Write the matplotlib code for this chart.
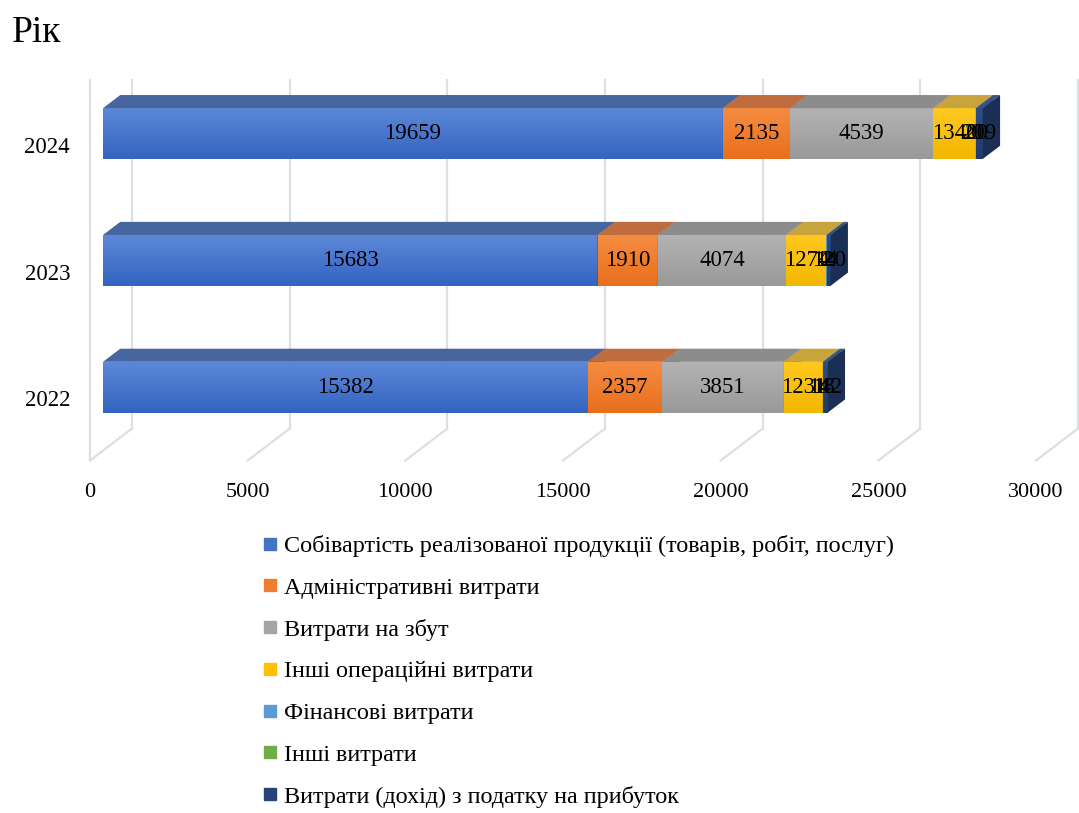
import numpy as np
import matplotlib.pyplot as plt
from matplotlib.patches import Polygon
from matplotlib.lines import Line2D
from matplotlib.colors import LinearSegmentedColormap

plt.rcParams['font.family'] = ['Liberation Serif', 'DejaVu Serif']

years = ['2022', '2023', '2024']
series = ['Собівартість реалізованої продукції (товарів, робіт, послуг)',
          'Адміністративні витрати',
          'Витрати на збут',
          'Інші операційні витрати',
          'Фінансові витрати',
          'Інші витрати',
          'Витрати (дохід) з податку на прибуток']
cost_sales = [15382, 15683, 19659]
admin = [2357, 1910, 2135]
selling = [3851, 4074, 4539]
other_oper = [1231, 1274, 1340]
finance = [18, 14, 20]
other = [4, 2, 0]
tax = [142, 120, 209]
values = [cost_sales, admin, selling, other_oper, finance, other, tax]
xticks = [0, 5000, 10000, 15000, 20000, 25000, 30000]

base = ['#4472C4', '#ED7D31', '#A5A5A5', '#FFC000', '#5B9BD5', '#70AD47', '#264478']
front_top = ['#5d88d9', '#f58c42', '#b3b3b3', '#ffc81f', '#6aa6dc', '#7db856', '#2d4e88']
front_bot = ['#3464c0', '#e86f1c', '#999999', '#f2b700', '#4d8dc8', '#629c3c', '#1f3b6c']
top_col = ['#47659f', '#bf6c3f', '#8c8c8c', '#c9a33b', '#4c80ad', '#5d8a3d', '#3a5487']
side_col = ['#2f528f', '#b85a20', '#7f7f7f', '#bf9000', '#3a71a3', '#4f7d31', '#1b2f55']

# oblique projection: full depth of the plot box
DX = 1332.0
DY = 0.252
d0, d1 = 0.31, 0.72   # bar depth range (fraction of full depth)
bar_h = 0.40

fig = plt.figure(figsize=(10.79, 8.13), dpi=100)
ax = fig.add_axes([90 / 1079, 1 - 460.5 / 813, 946 / 1079, 380.5 / 813])
ax.set_axis_off()

grid_c = '#dcdfe6'
# left wall edges
ax.plot([0, 0], [0, 3.0], color=grid_c, lw=1.6, zorder=0, clip_on=False)
for v in xticks:
    ax.plot([v + DX, v + DX], [DY, 3.0], color=grid_c, lw=1.6, zorder=0, clip_on=False)
    ax.plot([v, v + DX], [0, DY], color=grid_c, lw=1.6, zorder=0, clip_on=False)
    ax.text(v, -0.25, str(v), ha='center', va='center', fontsize=16)

z = 1
for j, yr in enumerate(years):
    lvl = j + 0.5
    ylo = lvl - bar_h / 2 + d0 * DY
    yhi = lvl + bar_h / 2 + d0 * DY
    ddx = (d1 - d0) * DX
    ddy = (d1 - d0) * DY
    left = 0.0
    for i, ser in enumerate(values):
        w = ser[j]
        x0 = left + d0 * DX
        x1 = x0 + w
        if w > 0:
            front = Polygon([(x0, ylo), (x1, ylo), (x1, yhi), (x0, yhi)], closed=True,
                            fc=front_bot[i], ec='none', zorder=z, clip_on=False)
            ax.add_patch(front)
            cmap = LinearSegmentedColormap.from_list('g', [front_bot[i], front_top[i]])
            im = ax.imshow(np.linspace(0, 1, 64).reshape(-1, 1), cmap=cmap, aspect='auto',
                           extent=[x0, x1, ylo, yhi], origin='lower', zorder=z + 0.1)
            im.set_clip_path(front)
            ax.add_patch(Polygon([(x0, yhi), (x1, yhi), (x1 + ddx, yhi + ddy), (x0 + ddx, yhi + ddy)],
                                 closed=True, fc=top_col[i], ec='none', zorder=z + 0.2, clip_on=False))
            ax.add_patch(Polygon([(x1, ylo), (x1 + ddx, ylo + ddy), (x1 + ddx, yhi + ddy), (x1, yhi)],
                                 closed=True, fc=side_col[i], ec='none', zorder=z + 0.3, clip_on=False))
        z += 1
        left += w
    # data labels
    left = 0.0
    for i, ser in enumerate(values):
        w = ser[j]
        ax.text(left + d0 * DX + w / 2, lvl + d0 * DY, str(w), ha='center', va='center',
                fontsize=16.5, zorder=100)
        left += w
    ax.text(-634, lvl - 0.03, yr, ha='right', va='center', fontsize=16.5)

ax.set_xlim(0, 30000)
ax.set_ylim(0, 3.0)

fig.text(12 / 1079, 1 - 15 / 813, 'Рік', ha='left', va='top', fontsize=27)

handles = [Line2D([], [], marker='s', ls='none', color=c, markersize=8.5) for c in base]
fig.legend(handles, series, loc='upper left', bbox_to_anchor=(263 / 1079, 1 - 535 / 813),
           frameon=False, fontsize=17.4, handlelength=0.55, handletextpad=0.3,
           labelspacing=0.82, borderaxespad=0, borderpad=0)

fig.savefig('out.png', dpi=100)
